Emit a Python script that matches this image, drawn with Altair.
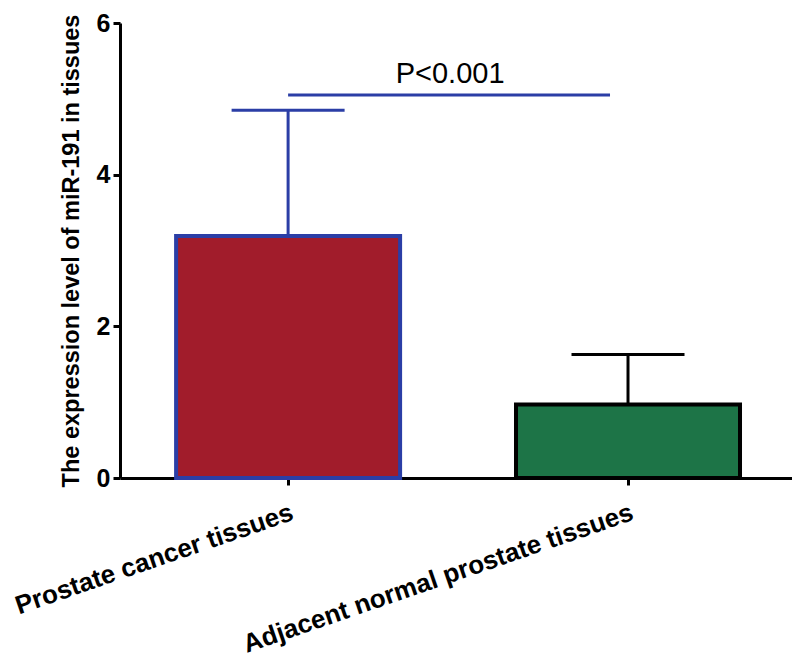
import altair as alt
import pandas as pd

categories = ["Prostate cancer tissues", "Adjacent normal prostate tissues"]
means = [3.19, 0.97]
uppers = [4.85, 1.63]
fills = ["#a11c2b", "#1d7447"]
strokes = ["#2b3ea6", "#000000"]
sig_y = [5.05]
sig_text = ["P<0.001"]

df = pd.DataFrame({"cat": categories, "mean": means, "upper": uppers,
                   "fill": fills, "stroke": strokes})
sig = pd.DataFrame({"a": [categories[0]], "b": [categories[1]], "y": sig_y, "t": sig_text})

xscale = alt.Scale(domain=categories, paddingInner=0.341, paddingOuter=0.159, align=0.519)
yscale = alt.Scale(domain=[0, 6])

xaxis = alt.Axis(labelAngle=-19, labelAlign="right", labelBaseline="top",
                 labelFont="Liberation Sans", labelFontWeight="bold",
                 labelFontSize=26, labelColor="black", labelPadding=14,
                 domainColor="black", domainWidth=3, tickColor="black",
                 tickWidth=3, tickSize=7, labelLimit=700, labelOverlap=False,
                 labelBound=False)
xenc = alt.X("cat:N", scale=xscale, sort=categories, title=None, axis=xaxis)
yenc = alt.Y("mean:Q", scale=yscale,
             title="The expression level of miR-191 in tissues",
             axis=alt.Axis(values=[0, 2, 4, 6], format="d", grid=False,
                           labelFont="Liberation Sans",
                           labelFontWeight="bold", labelFontSize=25, labelColor="black",
                           domainColor="black", domainWidth=3, tickColor="black",
                           tickWidth=3, tickSize=7, labelPadding=3,
                           titleFont="Liberation Sans", titleFontWeight="bold",
                           titleFontSize=23.5, titleColor="black", titlePadding=13))

base = alt.Chart(df)

err = base.mark_rule(strokeWidth=3, opacity=1).encode(
    x=xenc, y=alt.Y("mean:Q", scale=yscale), y2="upper:Q",
    color=alt.Color("stroke:N", scale=None))

caps = base.mark_tick(size=113, thickness=3, orient="horizontal", opacity=1).encode(
    x=xenc,
    y=alt.Y("upper:Q", scale=yscale),
    color=alt.Color("stroke:N", scale=None))

bars = base.mark_bar(strokeWidth=4, opacity=1).encode(
    x=xenc, y=yenc,
    fill=alt.Fill("fill:N", scale=None),
    stroke=alt.Stroke("stroke:N", scale=None))

sig_line = alt.Chart(sig).mark_rule(color="#2b3ea6", strokeWidth=3, x2Offset=-18).encode(
    x=alt.X("a:N", scale=xscale, sort=categories, axis=xaxis, title=None),
    x2="b:N",
    y=alt.Y("y:Q", scale=yscale))

sig_lab = alt.Chart(sig).mark_text(font="Liberation Sans", fontSize=29, color="black",
                                   dx=162, dy=-6, baseline="bottom").encode(
    x=alt.X("a:N", scale=xscale, sort=categories, axis=xaxis, title=None),
    y=alt.Y("y:Q", scale=yscale),
    text="t:N")

chart = alt.layer(err, caps, bars, sig_line, sig_lab).properties(
    width=672, height=455,
    autosize=alt.AutoSizeParams(type="none"),
    padding={"left": 112, "top": 15, "right": 0, "bottom": 182},
    background="white",
).configure_view(stroke=None)

chart.save("out.html", embed_options={"renderer": "svg", "actions": False})
